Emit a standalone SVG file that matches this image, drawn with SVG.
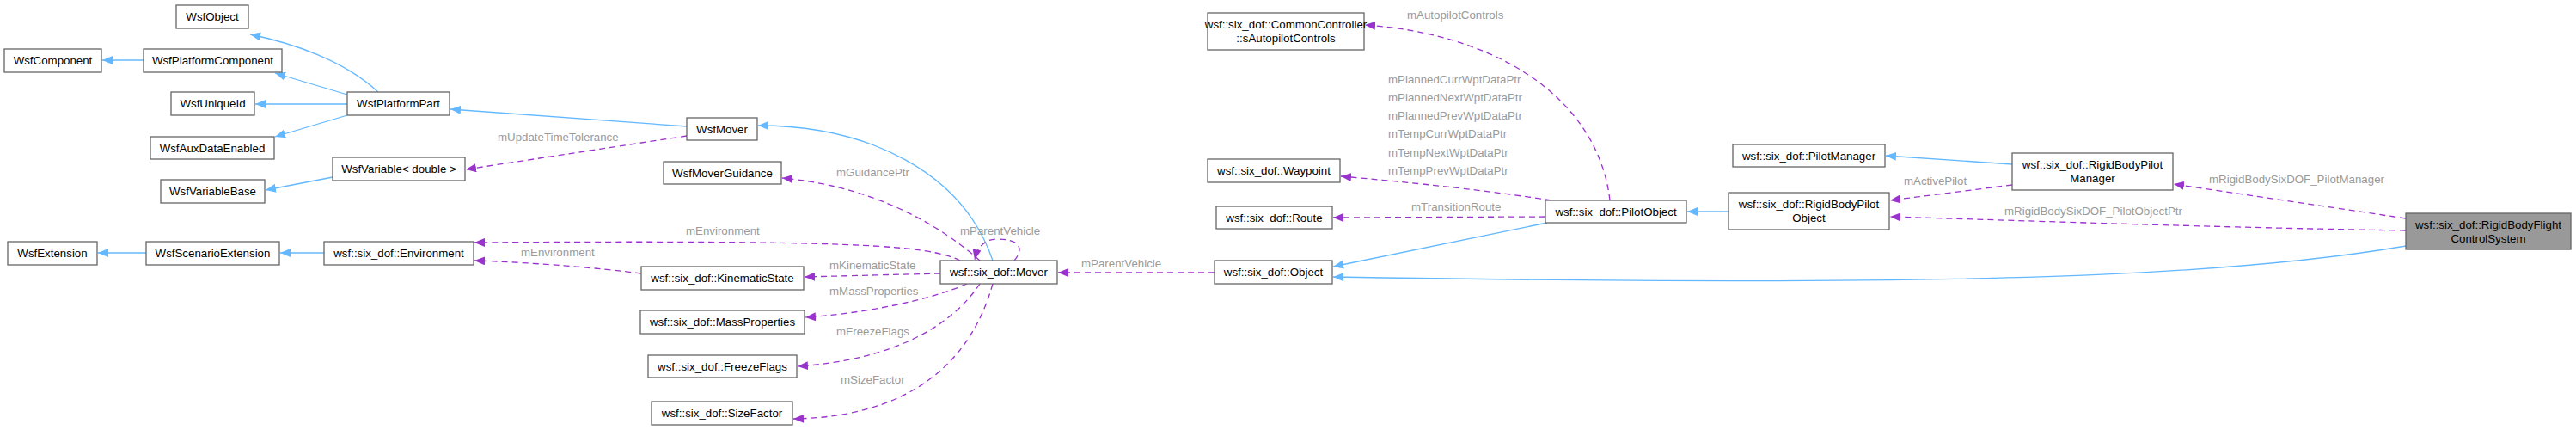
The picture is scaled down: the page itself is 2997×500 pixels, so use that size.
<svg xmlns="http://www.w3.org/2000/svg" width="2997" height="500" viewBox="0 0 2997 500">
<style>
.n rect{fill:#fff;stroke:#666;stroke-width:1.3}
.n text,.lb{font-family:"Liberation Sans",Arial,sans-serif;font-size:13.3px}
.n text{fill:#000;text-anchor:middle}
.lb{fill:#9a9a9a}
.inh{fill:none;stroke:#63b8ff;stroke-width:1.3;marker-end:url(#ab)}
.use{fill:none;stroke:#9a32cd;stroke-width:1.3;stroke-dasharray:7,5;marker-end:url(#ap)}
</style>
<defs>
<marker id="ab" viewBox="0 0 12 10" refX="12" refY="5" markerWidth="12" markerHeight="10" markerUnits="userSpaceOnUse" orient="auto"><path d="M0,0 L12,5 L0,10 z" fill="#63b8ff"/></marker>
<marker id="ap" viewBox="0 0 12 10" refX="12" refY="5" markerWidth="12" markerHeight="10" markerUnits="userSpaceOnUse" orient="auto"><path d="M0,0 L12,5 L0,10 z" fill="#9a32cd"/></marker>
</defs>
<rect width="2997" height="500" fill="#fff"/>
<g id="edges">
<path class="inh" d="M440,107 C400,70 340,50 291,40"/>
<path class="inh" d="M404,110 L320,85"/>
<path class="inh" d="M404,121 L297,121"/>
<path class="inh" d="M404,134 L320,159"/>
<path class="inh" d="M167,70 L119,70"/>
<path class="inh" d="M387,206 L309,221"/>
<path class="inh" d="M799,147 L524,127"/>
<path class="inh" d="M1155,303 C1120,200 1010,146 882,146"/>
<path class="inh" d="M377,294 L326,294"/>
<path class="inh" d="M170,294 L114,294"/>
<path class="inh" d="M1800,259 L1551,310"/>
<path class="inh" d="M2011,246 L1963,246"/>
<path class="inh" d="M2341,191 L2194,181"/>
<path class="inh" d="M2799,286 C2600,320 2300,335 1551,322"/>
<path class="use" d="M799,158 L542,197"/>
<path class="use" d="M1140,303 C1080,250 1000,215 910,207"/>
<path class="use" d="M1117,303 C1080,285 1000,279 552,282"/>
<path class="use" d="M746,318 C700,312 620,305 552,303"/>
<path class="use" d="M1180,303 C1195,285 1180,278 1160,278 C1145,278 1137,288 1134,302"/>
<path class="use" d="M1094,318 L936,322"/>
<path class="use" d="M1125,330 C1080,350 1000,365 937,369"/>
<path class="use" d="M1140,330 C1100,390 1020,420 928,426"/>
<path class="use" d="M1155,330 C1130,420 1060,485 923,487"/>
<path class="use" d="M1413,317 L1231,317"/>
<path class="use" d="M1873,233 C1860,120 1750,40 1588,29"/>
<path class="use" d="M1805,233 C1720,220 1640,212 1560,205"/>
<path class="use" d="M1798,252 L1551,253"/>
<path class="use" d="M2341,215 L2199,233"/>
<path class="use" d="M2799,254 L2529,214"/>
<path class="use" d="M2799,268 C2600,265 2400,258 2199,252"/>
</g>
<g id="labels">
<text class="lb" x="579" y="164">mUpdateTimeTolerance</text>
<text class="lb" x="973" y="205">mGuidancePtr</text>
<text class="lb" x="798" y="273">mEnvironment</text>
<text class="lb" x="606" y="298">mEnvironment</text>
<text class="lb" x="1117" y="273">mParentVehicle</text>
<text class="lb" x="965" y="313">mKinematicState</text>
<text class="lb" x="965" y="343">mMassProperties</text>
<text class="lb" x="973" y="390">mFreezeFlags</text>
<text class="lb" x="978" y="446">mSizeFactor</text>
<text class="lb" x="1258" y="311">mParentVehicle</text>
<text class="lb" x="1637" y="22">mAutopilotControls</text>
<text class="lb" x="1615" y="97">mPlannedCurrWptDataPtr</text>
<text class="lb" x="1615" y="118">mPlannedNextWptDataPtr</text>
<text class="lb" x="1615" y="139">mPlannedPrevWptDataPtr</text>
<text class="lb" x="1615" y="160">mTempCurrWptDataPtr</text>
<text class="lb" x="1615" y="182">mTempNextWptDataPtr</text>
<text class="lb" x="1615" y="203">mTempPrevWptDataPtr</text>
<text class="lb" x="1642" y="245">mTransitionRoute</text>
<text class="lb" x="2215" y="215">mActivePilot</text>
<text class="lb" x="2570" y="213">mRigidBodySixDOF_PilotManager</text>
<text class="lb" x="2332" y="250">mRigidBodySixDOF_PilotObjectPtr</text>
</g>
<g id="WsfObject" class="n"><rect x="205" y="6" width="84" height="27"/><text x="247" y="24">WsfObject</text></g>
<g id="WsfComponent" class="n"><rect x="5" y="57" width="113" height="27"/><text x="61.5" y="75">WsfComponent</text></g>
<g id="WsfPlatformComponent" class="n"><rect x="167" y="57" width="161" height="27"/><text x="247.5" y="75">WsfPlatformComponent</text></g>
<g id="WsfUniqueId" class="n"><rect x="199" y="107" width="97" height="27"/><text x="247.5" y="125">WsfUniqueId</text></g>
<g id="WsfPlatformPart" class="n"><rect x="404" y="107" width="119" height="27"/><text x="463.5" y="125">WsfPlatformPart</text></g>
<g id="WsfAuxDataEnabled" class="n"><rect x="175" y="159" width="144" height="26"/><text x="247" y="177">WsfAuxDataEnabled</text></g>
<g id="WsfVariableDouble" class="n"><rect x="387" y="183" width="154" height="27"/><text x="464" y="201">WsfVariable&lt; double &gt;</text></g>
<g id="WsfVariableBase" class="n"><rect x="187" y="209" width="121" height="27"/><text x="247.5" y="227">WsfVariableBase</text></g>
<g id="WsfExtension" class="n"><rect x="9" y="281" width="104" height="27"/><text x="61" y="299">WsfExtension</text></g>
<g id="WsfScenarioExtension" class="n"><rect x="170" y="281" width="155" height="27"/><text x="247.5" y="299">WsfScenarioExtension</text></g>
<g id="Environment" class="n"><rect x="377" y="281" width="174" height="27"/><text x="464" y="299">wsf::six_dof::Environment</text></g>
<g id="WsfMover" class="n"><rect x="799" y="137" width="82" height="26"/><text x="840" y="155">WsfMover</text></g>
<g id="WsfMoverGuidance" class="n"><rect x="772" y="188" width="137" height="26"/><text x="840.5" y="206">WsfMoverGuidance</text></g>
<g id="KinematicState" class="n"><rect x="746" y="310" width="189" height="27"/><text x="840.5" y="328">wsf::six_dof::KinematicState</text></g>
<g id="MassProperties" class="n"><rect x="745" y="361" width="191" height="27"/><text x="840.5" y="379">wsf::six_dof::MassProperties</text></g>
<g id="FreezeFlags" class="n"><rect x="754" y="413" width="173" height="26"/><text x="840.5" y="431">wsf::six_dof::FreezeFlags</text></g>
<g id="SizeFactor" class="n"><rect x="758" y="467" width="164" height="27"/><text x="840" y="485">wsf::six_dof::SizeFactor</text></g>
<g id="Mover" class="n"><rect x="1094" y="303" width="136" height="27"/><text x="1162" y="321">wsf::six_dof::Mover</text></g>
<g id="Object" class="n"><rect x="1413" y="303" width="137" height="27"/><text x="1481.5" y="321">wsf::six_dof::Object</text></g>
<g id="Route" class="n"><rect x="1415" y="240" width="135" height="26"/><text x="1482.5" y="258">wsf::six_dof::Route</text></g>
<g id="Waypoint" class="n"><rect x="1405" y="185" width="154" height="27"/><text x="1482" y="203">wsf::six_dof::Waypoint</text></g>
<g id="CommonController" class="n"><rect x="1405" y="15" width="182" height="43"/><text x="1496" y="33">wsf::six_dof::CommonController</text><text x="1496" y="49">::sAutopilotControls</text></g>
<g id="PilotObject" class="n"><rect x="1798" y="233" width="164" height="26"/><text x="1880" y="251">wsf::six_dof::PilotObject</text></g>
<g id="PilotManager" class="n"><rect x="2016" y="168" width="177" height="26"/><text x="2104.5" y="186">wsf::six_dof::PilotManager</text></g>
<g id="RigidBodyPilotObject" class="n"><rect x="2011" y="224" width="187" height="43"/><text x="2104.5" y="242">wsf::six_dof::RigidBodyPilot</text><text x="2104.5" y="258">Object</text></g>
<g id="RigidBodyPilotManager" class="n"><rect x="2341" y="178" width="187" height="43"/><text x="2434.5" y="196">wsf::six_dof::RigidBodyPilot</text><text x="2434.5" y="212">Manager</text></g>
<g id="RigidBodyFlightControlSystem" class="n"><rect x="2799" y="248" width="192" height="42" style="fill:#999"/><text x="2895" y="266">wsf::six_dof::RigidBodyFlight</text><text x="2895" y="282">ControlSystem</text></g>
</svg>
